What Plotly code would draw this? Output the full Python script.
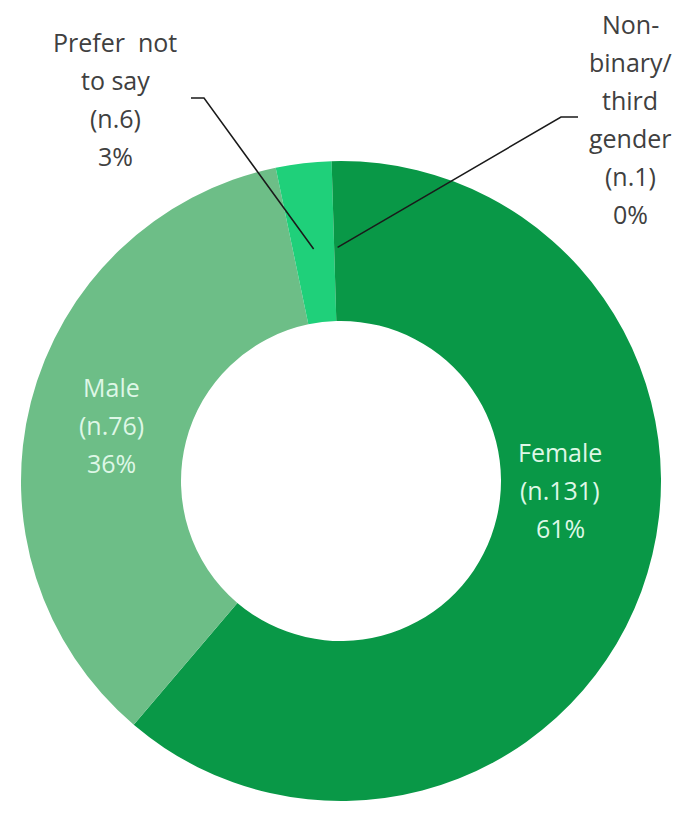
import math
import plotly.graph_objects as go

# ---- data ----
categories = ["Female", "Male", "Prefer not to say", "Non-binary/third gender"]
label_lines = [["Female"], ["Male"], ["Prefer  not", "to say"], ["Non-", "binary/", "third", "gender"]]
counts = [131, 76, 6, 1]

# ---- style / layout ----
W, H = 681, 822
cx, cy, R = 341, 481, 320          # donut centre and outer radius in px
colors = ["#099847", "#6dbe87", "#1fd07a", "#099847"]
text_colors = ["#def7e6", "#def7e6", "#404040", "#404040"]
label_pos = [(560, 452), (111, 387), (115, 42), (630, 24)]   # first line centre (px)
line_step = 38
leader_start = {2: [(191, 98), (204, 98)], 3: [(578, 117), (561, 117)]}
FONT = "Open Sans"

total = sum(counts)
pcts = [c / total * 100 for c in counts]

fig = go.Figure(go.Pie(
    labels=categories, values=counts, sort=False, direction="clockwise", rotation=0,
    hole=0.5, marker=dict(colors=colors, line=dict(width=0)),
    textinfo="none", hoverinfo="label+value+percent", showlegend=False,
    domain=dict(x=[(cx - R) / W, (cx + R) / W], y=[(H - cy - R) / H, (H - cy + R) / H]),
))

def to_paper(px, py):
    return px / W, 1 - py / H

annotations = []
for i, cat in enumerate(categories):
    lines = label_lines[i] + [f"(n.{counts[i]})", f"{round(pcts[i])}%"]
    x0, y0 = label_pos[i]
    for k, ln in enumerate(lines):
        xp, yp = to_paper(x0, y0 + k * line_step)
        annotations.append(dict(x=xp, y=yp, xref="paper", yref="paper", text=ln,
                                showarrow=False, xanchor="center", yanchor="middle",
                                font=dict(family=FONT, size=25, color=text_colors[i])))

# leader lines to small slices, tip at slice mid-angle
shapes = []
cum = 0.0
for i, c in enumerate(counts):
    mid = (cum + c / 2) / total * 360.0
    cum += c
    if i in leader_start:
        r = 0.73 * R
        tx = cx + r * math.sin(math.radians(mid))
        ty = cy - r * math.cos(math.radians(mid))
        pts = leader_start[i] + [(tx, ty)]
        path = "M " + " L ".join(f"{to_paper(*p)[0]},{to_paper(*p)[1]}" for p in pts)
        shapes.append(dict(type="path", xref="paper", yref="paper", path=path,
                           line=dict(color="#1a1a1a", width=1.5)))

fig.update_layout(width=W, height=H, margin=dict(l=0, r=0, t=0, b=0),
                  paper_bgcolor="white", plot_bgcolor="white",
                  annotations=annotations, shapes=shapes)

fig.write_html("out.html", config={"displayModeBar": False},
               post_script="document.body.style.margin='0';document.body.style.overflow='hidden';")
